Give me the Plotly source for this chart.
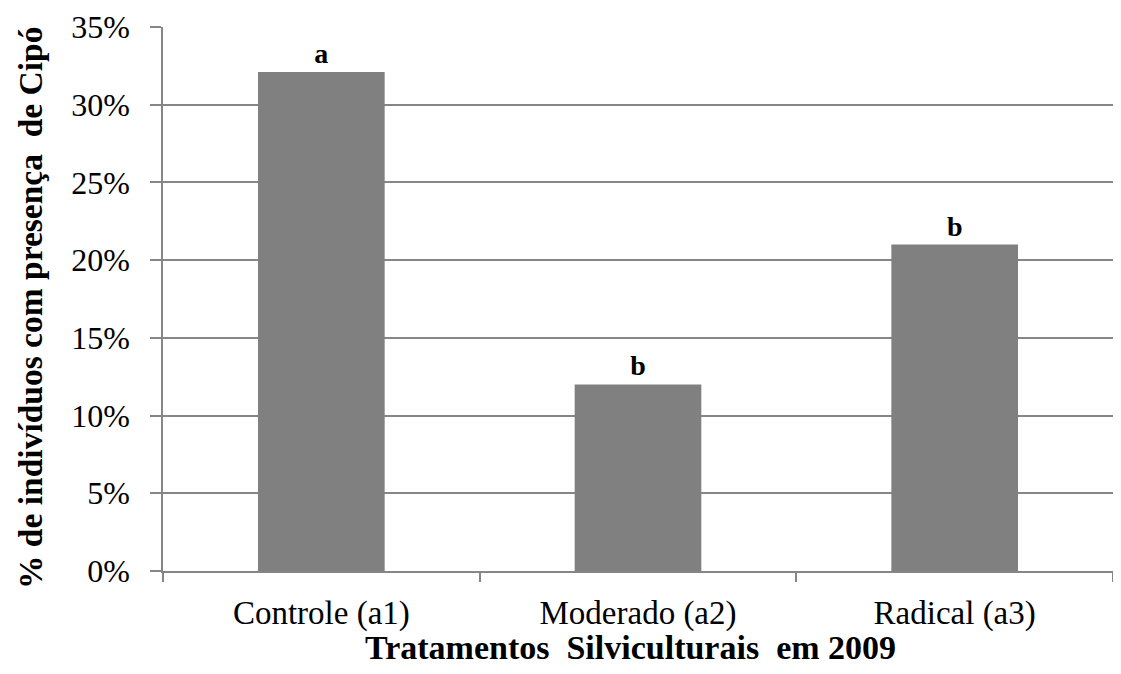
import plotly.graph_objects as go

categories = ["Controle (a1)", "Moderado (a2)", "Radical (a3)"]
values = [0.321, 0.120, 0.210]
letters = ["a", "b", "b"]
y_ticks = [0, 0.05, 0.10, 0.15, 0.20, 0.25, 0.30, 0.35]
y_tick_labels = ["0%", "5%", "10%", "15%", "20%", "25%", "30%", "35%"]

FONT = "Liberation Serif, Times New Roman, serif"
GRAY = "#868686"

fig = go.Figure(
    go.Bar(
        x=categories,
        y=values,
        text=[f"<b>{t}</b>" for t in letters],
        textposition="outside",
        textfont=dict(family=FONT, size=28, color="#000000"),
        marker=dict(color="#808080", line=dict(width=0)),
        cliponaxis=False,
    )
)

# page body has an 8px margin, so the figure is sized/offset to compensate
fig.update_layout(
    width=1105,
    height=658,
    margin=dict(l=155, r=0, t=19, b=95),
    paper_bgcolor="#ffffff",
    plot_bgcolor="#ffffff",
    font=dict(family=FONT, color="#000000", size=32),
    bargap=0.6,
    showlegend=False,
)

# axis titles as annotations so they can sit exactly where the original has them
fig.add_annotation(
    text="<b>Tratamentos  Silviculturais  em 2009</b>",
    xref="paper", yref="paper", x=0.5, y=0,
    xanchor="center", yanchor="top",
    xshift=-8, yshift=-56,
    showarrow=False,
    font=dict(family=FONT, size=34),
)
fig.add_annotation(
    text="<b>% de indivíduos com presença  de Cipó</b>",
    xref="paper", yref="paper", x=0, y=0.5,
    xanchor="center", yanchor="middle",
    xshift=-133, yshift=-9,
    textangle=-90,
    showarrow=False,
    font=dict(family=FONT, size=33.5),
)

fig.update_xaxes(
    automargin=False,
    showline=True,
    linecolor=GRAY,
    linewidth=1.5,
    ticks="outside",
    tickson="boundaries",
    ticklen=9,
    tickcolor=GRAY,
    tickwidth=1.5,
    ticklabelstandoff=12,
    tickfont=dict(family=FONT, size=33),
)

fig.update_yaxes(
    automargin=False,
    range=[0, 0.35],
    tickvals=y_ticks,
    ticktext=y_tick_labels,
    showgrid=True,
    gridcolor=GRAY,
    gridwidth=1.5,
    showline=True,
    linecolor=GRAY,
    linewidth=1.5,
    ticks="outside",
    ticklen=11,
    tickcolor=GRAY,
    tickwidth=1.5,
    ticklabelstandoff=14,
    zeroline=False,
    tickfont=dict(family=FONT, size=32),
)

fig.write_html("out.html")
